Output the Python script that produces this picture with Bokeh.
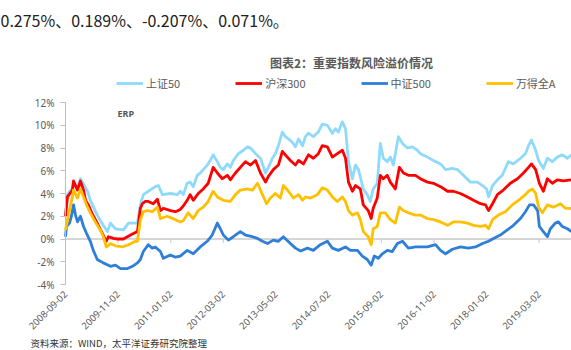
import math
import pandas as pd
from bokeh.plotting import figure
from bokeh.models import (Range1d, FixedTicker, DatetimeTickFormatter, PrintfTickFormatter,
                          Label, Legend, LegendItem, LinearAxis, DatetimeAxis)
from bokeh.embed import file_html
from bokeh.resources import INLINE

# ---------------- data (ERP, %) ----------------
sz50_dates = ["2008-09-02","2008-09-18","2008-10-28","2008-11-06","2008-11-22","2008-12-08","2009-01-01","2009-01-26",
"2009-02-27","2009-03-22","2009-05-17","2009-07-05","2009-08-07","2009-09-01","2009-10-11","2009-12-15","2010-01-25",
"2010-04-07","2010-05-01","2010-05-25","2010-07-04","2010-08-30","2010-09-24","2010-10-26","2010-12-30","2011-02-25",
"2011-03-20","2011-04-13","2011-05-15","2011-06-08","2011-07-03","2011-08-04","2011-08-28","2011-09-22","2011-10-24",
"2011-11-17","2011-12-11","2012-01-14","2012-02-07","2012-03-02","2012-04-04","2012-04-28","2012-05-22","2012-07-02",
"2012-08-12","2012-09-13","2012-10-08","2012-11-18","2012-12-28","2013-02-07","2013-03-02","2013-04-03","2013-04-27",
"2013-05-22","2013-06-23","2013-07-17","2013-08-11","2013-09-12","2013-10-07","2013-11-01","2013-12-03","2013-12-27",
"2014-01-20","2014-03-01","2014-04-10","2014-05-12","2014-06-22","2014-08-02","2014-08-26","2014-09-19","2014-10-22",
"2014-11-16","2014-12-10","2015-01-11","2015-02-05","2015-03-01","2015-04-09","2015-05-11","2015-06-04","2015-06-28",
"2015-07-31","2015-08-25","2015-09-18","2015-10-20","2015-11-14","2015-12-08","2016-01-18","2016-02-20","2016-03-31",
"2016-05-10","2016-06-20","2016-07-14","2016-09-09","2016-10-28","2016-12-24","2017-02-03","2017-03-30","2017-05-10",
"2017-06-27","2017-08-23","2017-10-19","2017-11-29","2018-01-01","2018-01-17","2018-02-18","2018-03-29","2018-05-08",
"2018-06-26","2018-08-06","2018-10-02","2018-11-11","2018-12-06","2018-12-30","2019-02-02","2019-02-26","2019-04-05",
"2019-05-08","2019-06-17","2019-07-27","2019-09-06","2019-10-17","2019-11-19"]
sz50_vals = [2.2,3.9,4.5,5.0,4.6,4.4,5.3,4.8,4.2,3.4,2.1,1.2,0.65,1.4,0.9,0.8,1.4,1.4,3.0,3.9,4.2,4.6,4.7,3.9,4.0,3.9,
4.2,3.9,4.9,5.0,4.6,5.6,5.8,6.1,6.5,6.9,7.4,6.8,6.3,6.1,6.6,6.3,6.9,7.5,7.8,8.1,8.0,7.5,7.1,5.8,6.3,7.1,7.5,8.2,9.4,
9.0,8.8,8.5,8.1,8.8,8.2,9.0,9.3,9.0,9.4,10.1,10.0,9.3,9.7,9.4,10.3,9.7,6.8,5.3,6.5,6.1,4.4,3.9,3.3,4.4,4.9,8.4,7.1,
6.8,7.2,6.5,9.0,8.4,8.0,8.1,7.8,7.5,7.2,6.9,6.6,6.1,6.2,6.1,5.6,5.0,5.0,4.7,4.4,3.7,4.7,5.2,5.6,6.8,6.6,7.1,7.5,8.2,
8.7,7.8,6.9,6.2,7.1,6.8,7.2,7.4,7.1,7.4]

hs300_dates = ["2008-09-02","2008-09-18","2008-10-28","2008-11-06","2008-11-22","2008-12-08","2009-01-01","2009-01-26",
"2009-02-11","2009-03-06","2009-04-07","2009-05-17","2009-06-27","2009-07-29","2009-08-15","2009-09-25","2009-10-27",
"2009-12-15","2010-02-10","2010-04-07","2010-05-01","2010-05-17","2010-06-10","2010-07-04","2010-08-13","2010-09-16",
"2010-10-10","2010-11-03","2010-12-30","2011-02-09","2011-03-20","2011-04-13","2011-05-15","2011-06-08","2011-07-03",
"2011-08-12","2011-09-22","2011-11-01","2011-12-11","2012-01-14","2012-02-23","2012-04-04","2012-04-28","2012-06-08",
"2012-07-18","2012-08-28","2012-10-08","2012-11-18","2012-12-28","2013-02-07","2013-03-02","2013-04-11","2013-05-22",
"2013-06-23","2013-07-17","2013-08-27","2013-10-07","2013-11-01","2013-12-11","2014-01-20","2014-03-01","2014-04-10",
"2014-05-12","2014-06-22","2014-08-02","2014-09-11","2014-10-22","2014-11-16","2014-12-10","2015-01-11","2015-02-05",
"2015-03-16","2015-04-09","2015-05-19","2015-06-12","2015-06-28","2015-07-31","2015-08-25","2015-09-18","2015-10-20",
"2015-11-14","2015-12-24","2016-01-26","2016-02-28","2016-04-08","2016-06-04","2016-07-14","2016-09-09","2016-10-28",
"2016-12-24","2017-02-19","2017-04-07","2017-06-03","2017-07-30","2017-09-17","2017-11-13","2017-12-23","2018-01-17",
"2018-02-18","2018-03-29","2018-05-16","2018-07-12","2018-09-08","2018-10-26","2018-12-06","2018-12-30","2019-02-02",
"2019-03-04","2019-04-05","2019-05-08","2019-06-17","2019-07-27","2019-09-15","2019-11-19"]
hs300_vals = [2.0,3.7,4.3,5.1,4.7,4.3,5.1,4.3,3.4,3.0,2.2,1.4,0.5,-0.2,0.2,0.05,0.0,0.0,0.35,0.65,2.7,3.1,3.3,3.3,3.1,
3.5,2.5,2.7,2.5,2.4,2.6,2.9,3.4,3.9,3.4,4.0,4.4,4.9,6.3,5.8,5.3,5.6,5.2,5.8,6.3,6.8,6.5,6.9,5.8,5.0,5.5,6.1,6.5,7.7,
7.4,6.9,6.5,6.9,6.6,7.4,7.1,7.5,8.2,8.1,7.2,7.5,7.8,7.1,5.0,4.2,4.7,4.4,3.0,2.5,1.8,2.7,3.6,5.6,5.3,5.6,5.0,4.4,6.3,
5.8,5.6,5.6,5.3,5.0,4.9,4.6,4.2,4.2,4.0,3.7,3.4,3.1,3.0,2.5,3.1,3.9,4.3,4.9,5.3,5.8,6.3,6.6,6.1,4.9,4.2,5.3,4.9,5.2,
5.1,5.2]

zz500_dates = ["2008-09-02","2008-09-10","2008-10-04","2008-10-20","2008-11-06","2008-11-22","2008-12-08","2009-01-01",
"2009-01-26","2009-02-19","2009-03-22","2009-04-15","2009-05-17","2009-07-05","2009-09-01","2009-10-11","2009-11-21",
"2010-01-17","2010-02-26","2010-04-07","2010-05-01","2010-05-25","2010-07-04","2010-08-05","2010-08-30","2010-10-10",
"2010-11-03","2010-12-30","2011-02-09","2011-03-20","2011-05-15","2011-07-03","2011-08-28","2011-10-24","2011-12-03",
"2012-01-14","2012-02-07","2012-03-02","2012-04-12","2012-05-22","2012-07-18","2012-08-28","2012-10-24","2012-12-04",
"2013-01-13","2013-02-23","2013-04-11","2013-05-22","2013-07-01","2013-08-27","2013-10-07","2013-11-17","2014-01-12",
"2014-03-01","2014-04-26","2014-06-22","2014-08-02","2014-09-19","2014-11-16","2014-12-26","2015-02-21","2015-04-01",
"2015-05-11","2015-06-12","2015-07-07","2015-08-08","2015-09-10","2015-10-20","2015-11-30","2016-01-10","2016-02-20",
"2016-04-08","2016-06-04","2016-07-30","2016-09-09","2016-11-13","2016-12-24","2017-02-03","2017-03-30","2017-06-03",
"2017-08-07","2017-10-03","2017-11-29","2018-01-17","2018-02-26","2018-04-22","2018-06-18","2018-08-06","2018-10-02",
"2018-11-11","2018-12-14","2019-01-16","2019-02-18","2019-03-04","2019-04-05","2019-05-08","2019-06-01","2019-07-11",
"2019-08-05","2019-09-06","2019-10-17","2019-11-19"]
zz500_vals = [0.2,1.1,1.4,2.0,3.0,2.1,1.5,2.0,1.1,0.5,-0.2,-1.0,-1.8,-2.1,-2.4,-2.3,-2.6,-2.6,-2.4,-2.1,-1.8,-1.1,-0.5,
-0.8,-0.7,-1.1,-1.7,-1.4,-1.6,-1.5,-1.0,-1.3,-0.7,-0.2,0.35,1.4,0.9,0.35,-0.1,0.2,0.65,0.35,0.2,0.05,-0.2,-0.4,-0.1,
-0.2,0.2,-0.4,-0.8,-1.05,-0.8,-1.0,-0.5,-0.2,-0.8,-1.0,-0.7,-1.0,-1.0,-1.5,-1.8,-2.3,-1.5,-1.7,-1.3,-1.0,-1.1,-0.4,
-0.2,-0.8,-0.7,-0.7,-0.7,-0.5,-1.0,-1.3,-0.9,-0.7,-0.8,-0.7,-0.4,-0.2,0.05,0.35,0.8,1.2,1.8,2.4,3.0,3.0,2.5,1.1,0.65,
0.2,0.9,1.4,1.5,1.1,0.9,0.65]

wind_dates = ["2008-09-02","2008-09-26","2008-10-28","2008-11-06","2008-12-08","2009-01-01","2009-01-26","2009-02-19",
"2009-03-22","2009-05-01","2009-06-11","2009-07-05","2009-07-29","2009-09-01","2009-10-11","2009-12-07","2010-01-25",
"2010-03-22","2010-04-07","2010-05-01","2010-05-25","2010-06-26","2010-08-05","2010-09-16","2010-10-10","2010-12-05",
"2011-02-09","2011-03-20","2011-04-13","2011-05-23","2011-07-03","2011-08-12","2011-09-22","2011-11-01","2011-12-11",
"2012-01-14","2012-03-02","2012-04-28","2012-06-08","2012-07-18","2012-09-13","2012-10-24","2012-12-04","2013-01-13",
"2013-02-15","2013-03-18","2013-04-27","2013-06-07","2013-07-01","2013-08-11","2013-09-20","2013-11-01","2013-12-03",
"2013-12-27","2014-02-06","2014-04-02","2014-05-12","2014-06-22","2014-08-02","2014-09-11","2014-10-22","2014-11-16",
"2014-12-10","2015-01-11","2015-02-21","2015-03-16","2015-04-09","2015-05-19","2015-06-12","2015-06-28","2015-07-31",
"2015-08-25","2015-10-04","2015-11-14","2015-12-24","2016-01-26","2016-02-28","2016-04-08","2016-06-04","2016-07-14",
"2016-09-09","2016-10-28","2016-12-24","2017-02-19","2017-04-07","2017-06-03","2017-07-30","2017-09-17","2017-11-13",
"2017-12-23","2018-01-17","2018-02-18","2018-04-06","2018-06-02","2018-07-28","2018-09-16","2018-11-11","2018-12-06",
"2019-01-07","2019-02-02","2019-02-26","2019-03-28","2019-05-08","2019-06-25","2019-08-21","2019-10-01","2019-11-19"]
wind_vals = [0.8,2.1,3.7,4.3,3.6,4.4,3.7,3.0,2.3,1.5,0.8,0.2,-0.7,-0.4,-0.6,-0.7,-0.5,-0.2,-0.2,1.7,2.4,2.5,2.4,2.8,
1.8,2.0,1.7,1.5,1.6,2.3,1.8,2.5,2.8,3.3,4.2,3.7,3.4,3.3,3.9,4.3,4.4,4.3,4.9,3.9,3.1,3.6,4.0,3.6,4.7,4.2,3.6,3.9,3.4,
3.7,3.6,3.9,4.5,4.3,3.7,3.3,3.7,3.3,2.5,2.1,2.3,1.7,0.65,0.2,-0.5,0.9,1.1,2.3,2.3,1.7,1.4,2.8,2.5,2.3,2.1,2.1,1.8,
1.7,1.5,1.2,1.5,1.5,1.4,1.2,1.1,1.2,0.9,1.7,2.1,2.4,3.0,3.4,3.9,4.2,4.4,4.0,2.8,2.3,3.0,2.8,3.1,2.7,2.7]

series_names = ["上证50", "沪深300", "中证500", "万得全A"]
x_tick_dates = ["2008-09-02", "2009-11-02", "2011-01-02", "2012-03-02", "2013-05-02", "2014-07-02",
                "2015-09-02", "2016-11-02", "2018-01-02", "2019-03-02"]
y_ticks = [-4, -2, 0, 2, 4, 6, 8, 10, 12]
y_min, y_max = -4, 12
x_start, x_end = "2008-09-02", "2019-11-19"

title_text = "图表2：重要指数风险溢价情况"
doc_text = "0.275%、0.189%、-0.207%、0.071%。"
source_text = "资料来源：WIND，太平洋证券研究院整理"

# ---------------- layout / styles ----------------
W, H = 571, 350
PLOT_L, PLOT_R, PLOT_T, PLOT_B = 65, 571, 102, 284   # pixel box of the data area
colors = ["#8fd9fb", "#ff0000", "#2f7ed8", "#ffc000"]
GRAY = "#595959"
CJK = "Noto Sans CJK SC"

def ms(s):
    return pd.Timestamp(s).value / 1e6

t0, t1 = ms(x_start), ms(x_end)
ms_per_px = (t1 - t0) / (PLOT_R - PLOT_L)
v_per_px = (y_max - y_min) / (PLOT_B - PLOT_T)
xr = Range1d(t0 - PLOT_L * ms_per_px, t1 + (W - PLOT_R) * ms_per_px)
yr = Range1d(y_min - (H - PLOT_B) * v_per_px, y_max + PLOT_T * v_per_px)

p = figure(width=W, height=H, output_backend="svg", toolbar_location=None,
           x_range=xr, y_range=yr, x_axis_location=None, y_axis_location=None,
           min_border=0, min_border_left=0, min_border_right=0, min_border_top=0, min_border_bottom=0)
p.background_fill_color = "white"
p.border_fill_color = "white"
p.outline_line_color = None
p.grid.visible = False

# zero line (from axis to end of data) and tick marks on it
p.segment(x0=[t0], y0=[0], x1=[t1], y1=[0], line_color="#c9c9c9", line_width=1.5)
tick_ms = [ms(t) for t in x_tick_dates]
p.segment(x0=tick_ms, y0=[0] * len(tick_ms), x1=tick_ms, y1=[-0.35] * len(tick_ms),
          line_color="#c9c9c9", line_width=1)

renderers = []
for d, v, c in [(sz50_dates, sz50_vals, colors[0]), (hs300_dates, hs300_vals, colors[1]),
                (zz500_dates, zz500_vals, colors[2]), (wind_dates, wind_vals, colors[3])]:
    r = p.line([ms(s) for s in d], v, line_color=c, line_width=2.8, line_join="round")
    renderers.append(r)

# axes
fmt = "%Y-%m-%d"
xa = DatetimeAxis(fixed_location=y_min,
                  ticker=FixedTicker(ticks=tick_ms),
                  formatter=DatetimeTickFormatter(milliseconds=fmt, seconds=fmt, minsec=fmt, minutes=fmt,
                                                  hourmin=fmt, hours=fmt, days=fmt, months=fmt, years=fmt))
xa.axis_line_color = None
xa.major_tick_line_color = None
xa.minor_tick_line_color = None
xa.major_tick_out = 0
xa.major_tick_in = 0
xa.major_label_orientation = math.pi / 4
xa.major_label_standoff = 8
xa.major_label_text_font_size = "9.5px"
xa.major_label_text_color = GRAY
xa.major_label_text_font = "Noto Sans"
p.add_layout(xa, "below")

ya = LinearAxis(fixed_location=t0, bounds=(y_min, y_max), ticker=FixedTicker(ticks=y_ticks),
                formatter=PrintfTickFormatter(format="%d%%"))
ya.axis_line_color = "#bfbfbf"
ya.major_tick_line_color = "#bfbfbf"
ya.minor_tick_line_color = None
ya.major_tick_out = 5
ya.major_tick_in = 0
ya.major_label_standoff = 6
ya.major_label_text_font_size = "10px"
ya.major_label_text_color = GRAY
ya.major_label_text_font = "Noto Sans"
p.add_layout(ya, "left")

# legend (screen position measured from the bottom-left of the page)
legend = Legend(items=[LegendItem(label=n, renderers=[r]) for n, r in zip(series_names, renderers)],
                orientation="horizontal", location=(116, H - 93), spacing=55, glyph_width=27,
                glyph_height=20, label_height=20, label_standoff=3, padding=0, margin=0,
                border_line_color=None, background_fill_alpha=0, label_text_font_size="11px",
                label_text_color=GRAY, label_text_font=CJK)
p.add_layout(legend)

def add_text(x, y, text, **kw):
    p.add_layout(Label(x=x, y=H - y, x_units="screen", y_units="screen", text=text, **kw))

add_text(351, 62, title_text, text_align="center", text_baseline="middle", text_font=CJK,
         text_font_size="12px", text_font_style="bold", text_color=GRAY)
add_text(117, 112.5, "ERP", text_align="left", text_baseline="middle", text_font="Noto Sans",
         text_font_size="9px", text_font_style="bold", text_color=GRAY)
add_text(0, 19.5, doc_text, text_align="left", text_baseline="middle", text_font=CJK,
         text_font_size="16px", text_color="#222222")
add_text(30, 349, source_text, text_align="left", text_baseline="bottom", text_font=CJK,
         text_font_size="9.5px", text_color="#333333")

open("out.html", "w").write(file_html(p, INLINE))
